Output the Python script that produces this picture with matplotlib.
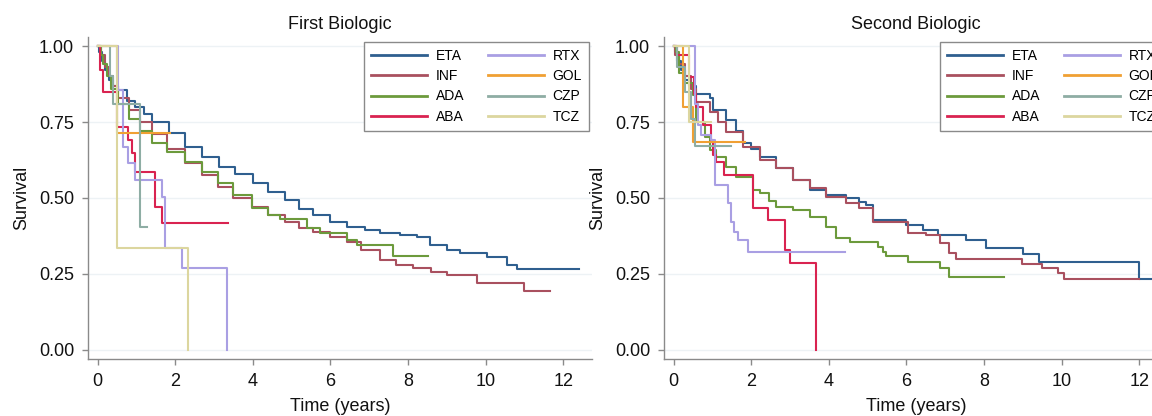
import numpy as np
import matplotlib
matplotlib.use('Agg')
import matplotlib.pyplot as plt

plt.rcParams['font.family'] = ['Liberation Sans', 'DejaVu Sans']

drugs = ['ETA', 'INF', 'ADA', 'ABA', 'RTX', 'GOL', 'CZP', 'TCZ']
colors = ['#2f5f8f', '#a9505f', '#6c9a3c', '#d92350', '#a99fe3', '#f0a033', '#8eada4', '#dcd69f']
titles = ['First Biologic', 'Second Biologic']

# ---- first biologic: step points (time, survival)
eta1_t = [0, 0.05, 0.12, 0.2, 0.3, 0.4, 0.54, 0.75, 0.97, 1.2, 1.4, 1.83, 2.26, 2.7, 3.12, 3.55, 4.0, 4.4, 4.84, 5.2, 5.56, 6.0, 6.43, 6.9, 7.28, 7.8, 8.23, 8.57, 9.0, 9.34, 10.04, 10.55, 10.8, 12.4]
eta1_s = [1.0, 0.98, 0.95, 0.92, 0.89, 0.87, 0.855, 0.82, 0.80, 0.775, 0.75, 0.713, 0.669, 0.635, 0.603, 0.578, 0.55, 0.52, 0.493, 0.465, 0.444, 0.42, 0.405, 0.395, 0.385, 0.378, 0.372, 0.345, 0.33, 0.319, 0.306, 0.28, 0.266, 0.266]
inf1_t = [0, 0.1, 0.2, 0.3, 0.4, 0.53, 0.8, 1.1, 1.4, 1.8, 2.26, 2.7, 3.1, 3.5, 3.98, 4.4, 4.84, 5.2, 5.56, 6.0, 6.43, 6.8, 7.28, 7.7, 8.14, 8.6, 9.0, 9.78, 11.0, 11.66]
inf1_s = [1.0, 0.97, 0.93, 0.90, 0.87, 0.83, 0.79, 0.75, 0.71, 0.66, 0.615, 0.575, 0.536, 0.50, 0.47, 0.445, 0.42, 0.40, 0.388, 0.37, 0.355, 0.33, 0.296, 0.28, 0.27, 0.258, 0.247, 0.221, 0.194, 0.194]
ada1_t = [0, 0.08, 0.15, 0.25, 0.35, 0.53, 0.8, 1.1, 1.4, 1.8, 2.26, 2.7, 3.1, 3.5, 3.98, 4.4, 4.7, 5.4, 5.73, 6.43, 6.69, 7.62, 8.52]
ada1_s = [1.0, 0.97, 0.94, 0.90, 0.86, 0.81, 0.76, 0.72, 0.68, 0.65, 0.62, 0.585, 0.55, 0.51, 0.467, 0.445, 0.43, 0.40, 0.385, 0.362, 0.345, 0.309, 0.309]
aba1_t = [0, 0.06, 0.15, 0.49, 0.79, 0.88, 0.97, 1.48, 1.65, 3.37]
aba1_s = [1.0, 0.923, 0.849, 0.735, 0.69, 0.647, 0.587, 0.471, 0.417, 0.417]
rtx1_t = [0, 0.54, 0.66, 0.79, 0.97, 1.65, 1.74, 2.17, 3.33]
rtx1_s = [1.0, 0.855, 0.669, 0.614, 0.559, 0.504, 0.335, 0.269, 0.0]
gol1_t = [0, 0.49, 1.87]
gol1_s = [1.0, 0.713, 0.713]
czp1_t = [0, 0.32, 0.41, 1.09, 1.27]
czp1_s = [1.0, 0.90, 0.811, 0.405, 0.405]
tcz1_t = [0, 0.49, 2.34]
tcz1_s = [1.0, 0.335, 0.0]

# ---- second biologic
eta2_t = [0, 0.05, 0.1, 0.2, 0.3, 0.4, 0.58, 0.93, 1.01, 1.36, 1.6, 1.79, 2.0, 2.22, 2.65, 3.08, 3.51, 3.94, 4.45, 4.79, 4.97, 5.14, 6.0, 6.43, 6.81, 7.54, 8.06, 9.0, 9.42, 12.0, 12.4]
eta2_s = [1.0, 0.98, 0.95, 0.92, 0.89, 0.87, 0.844, 0.828, 0.789, 0.757, 0.72, 0.68, 0.66, 0.636, 0.598, 0.559, 0.526, 0.51, 0.50, 0.488, 0.477, 0.428, 0.411, 0.395, 0.378, 0.362, 0.334, 0.316, 0.29, 0.234, 0.234]
inf2_t = [0, 0.05, 0.15, 0.3, 0.45, 0.58, 0.93, 1.15, 1.36, 1.79, 2.22, 2.65, 3.08, 3.51, 3.94, 4.45, 4.79, 5.14, 6.04, 6.51, 6.86, 7.11, 7.29, 8.99, 9.5, 9.9, 10.06, 12.0]
inf2_s = [1.0, 0.97, 0.94, 0.90, 0.86, 0.817, 0.784, 0.75, 0.718, 0.669, 0.625, 0.598, 0.559, 0.532, 0.504, 0.483, 0.466, 0.422, 0.384, 0.378, 0.351, 0.318, 0.298, 0.283, 0.269, 0.254, 0.234, 0.234]
ada2_t = [0, 0.07, 0.15, 0.28, 0.5, 0.58, 0.8, 0.93, 1.1, 1.36, 1.62, 2.04, 2.22, 2.45, 2.65, 3.08, 3.51, 3.94, 4.19, 4.54, 5.26, 5.39, 5.48, 6.04, 6.86, 7.11, 8.51]
ada2_s = [1.0, 0.98, 0.91, 0.877, 0.839, 0.751, 0.70, 0.658, 0.636, 0.603, 0.57, 0.526, 0.515, 0.49, 0.471, 0.46, 0.439, 0.406, 0.367, 0.356, 0.34, 0.323, 0.309, 0.29, 0.269, 0.241, 0.241]
aba2_t = [0, 0.1, 0.4, 0.54, 0.58, 0.75, 0.97, 1.01, 1.1, 1.31, 2.04, 2.43, 2.86, 2.99, 3.68]
aba2_s = [1.0, 0.97, 0.899, 0.844, 0.80, 0.74, 0.69, 0.641, 0.62, 0.576, 0.466, 0.428, 0.329, 0.287, 0.0]
rtx2_t = [0, 0.56, 0.62, 0.71, 0.97, 1.06, 1.4, 1.47, 1.57, 1.66, 1.92, 4.43]
rtx2_s = [1.0, 0.81, 0.74, 0.707, 0.69, 0.543, 0.483, 0.422, 0.389, 0.362, 0.323, 0.323]
gol2_t = [0, 0.24, 0.5, 1.83]
gol2_s = [1.0, 0.80, 0.685, 0.685]
czp2_t = [0, 0.1, 0.3, 0.45, 0.55, 1.49]
czp2_s = [1.0, 0.93, 0.85, 0.76, 0.671, 0.671]
tcz2_t = [0, 0.41, 0.97]
tcz2_s = [1.0, 0.751, 0.751]

panels = [
    [(eta1_t, eta1_s), (inf1_t, inf1_s), (ada1_t, ada1_s), (aba1_t, aba1_s),
     (rtx1_t, rtx1_s), (gol1_t, gol1_s), (czp1_t, czp1_s), (tcz1_t, tcz1_s)],
    [(eta2_t, eta2_s), (inf2_t, inf2_s), (ada2_t, ada2_s), (aba2_t, aba2_s),
     (rtx2_t, rtx2_s), (gol2_t, gol2_s), (czp2_t, czp2_s), (tcz2_t, tcz2_s)],
]

W, H = 1152, 416
fig = plt.figure(figsize=(W/100, H/100), dpi=100)
grey = '#8a8a8a'

for k, (left, curves) in enumerate(zip([88, 664], panels)):
    ax = fig.add_axes([left/W, 57/H, 504/W, 322/H])
    handles = []
    for name, col, (t, s) in zip(drugs, colors, curves):
        h, = ax.step(t, s, where='post', color=col, lw=1.5, label=name)
        handles.append(h)
    ax.set_xlim(-0.245, 12.74)
    ax.set_ylim(-0.03, 1.03)
    ax.set_xticks(np.arange(0, 13, 2))
    ax.set_yticks([0, 0.25, 0.5, 0.75, 1.0])
    ax.set_yticklabels(['0.00', '0.25', '0.50', '0.75', '1.00'])
    for y in [0, 0.25, 0.5, 0.75, 1.0]:
        ax.axhline(y, color='#edf2f5', lw=1, zorder=0)
    for sp in ['top', 'right']:
        ax.spines[sp].set_visible(False)
    for sp in ['left', 'bottom']:
        ax.spines[sp].set_color(grey)
        ax.spines[sp].set_linewidth(1)
    ax.tick_params(colors=grey, labelcolor='#111111', labelsize=13, length=4, width=1, pad=6)
    ax.set_title(titles[k], fontsize=13, pad=6, color='#111111')
    ax.set_xlabel('Time (years)', fontsize=13, labelpad=6, color='#111111')
    ax.set_ylabel('Survival', fontsize=13, labelpad=6, color='#111111')
    leg = ax.legend(handles, drugs, ncol=2, loc='upper right',
                    bbox_to_anchor=(1 - 3/504, 1 - 5/322), borderaxespad=0,
                    fontsize=10, handlelength=4, labelspacing=0.45,
                    columnspacing=1.7, handletextpad=0.65, borderpad=0.5,
                    fancybox=False, framealpha=1, edgecolor=grey)
    leg.get_frame().set_linewidth(1)
    for lh in leg.get_lines():
        lh.set_linewidth(2)

fig.savefig('out.png', dpi=100)
